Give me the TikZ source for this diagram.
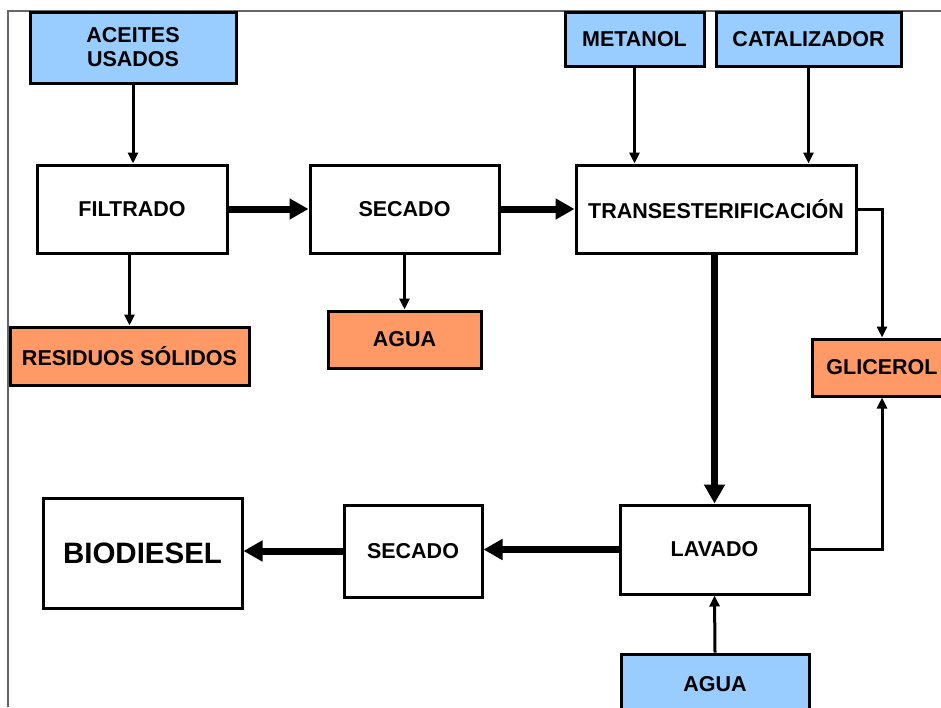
\documentclass[tikz,border=0pt]{standalone}
\usepackage{fontspec}
\setmainfont{Liberation Sans}
\usetikzlibrary{arrows.meta}
\definecolor{inblue}{HTML}{99CCFF}
\definecolor{outorange}{HTML}{FF9966}
\begin{document}
\begin{tikzpicture}[x=1pt,y=-1pt,
  box/.style={draw=black, line width=3pt, rectangle, inner sep=0pt, align=center,
    font=\fontsize{21.5}{24}\selectfont\bfseries},
  inbox/.style={box, fill=inblue},
  outbox/.style={box, fill=outorange},
  procbox/.style={box, fill=white},
  thin/.style={draw=black, line width=3pt, -{Triangle[length=11pt,width=10pt]}},
  thick/.style={draw=black, line width=7pt, -{Triangle[length=19pt,width=20pt]}}
]
\useasboundingbox (0,0) rectangle (941,707);
\fill[white] (0,0) rectangle (941,707);
\draw[gray!80!black, line width=1.3pt] (8,707) -- (8,11) -- (941,11);

% input boxes
\node[inbox, minimum width=206pt, minimum height=71pt] (aceites) at (133,47.5) {ACEITES\\USADOS};
\node[inbox, minimum width=139pt, minimum height=54pt] (metanol) at (634.5,39) {METANOL};
\node[inbox, minimum width=185pt, minimum height=54pt] (catal) at (808.5,39) {CATALIZADOR};
\node[inbox, minimum width=188pt, minimum height=60pt] (agua2) at (715,684) {AGUA};

% process boxes
\node[procbox, minimum width=190pt, minimum height=88pt] (filtrado) at (132,209) {FILTRADO};
\node[procbox, minimum width=189pt, minimum height=88pt] (secado1) at (404.5,209) {SECADO};
\node[procbox, minimum width=280pt, minimum height=88pt] (trans) at (716,209) {TRANSESTERIFICACIÓN};
\node[procbox, minimum width=189pt, minimum height=89pt] (lavado) at (714.5,549.5) {LAVADO};
\node[procbox, minimum width=138pt, minimum height=92pt] (secado2) at (413,551) {SECADO};
\node[procbox, minimum width=199pt, minimum height=110pt, font=\fontsize{29.5}{32}\selectfont\bfseries] (biodiesel) at (142.5,553) {BIODIESEL};

% output boxes
\node[outbox, minimum width=239pt, minimum height=58pt] (residuos) at (129.5,356) {RESIDUOS SÓLIDOS};
\node[outbox, minimum width=153pt, minimum height=57pt] (agua1) at (404.5,339.5) {AGUA};
\node[outbox, minimum width=140pt, minimum height=57pt] (glicerol) at (882,367.5) {GLICEROL};

% thin arrows
\draw[thin] (aceites.south) -- (aceites.south |- filtrado.north);
\draw[thin] (filtrado.south -| residuos.north) -- (residuos.north);
\draw[thin] (secado1.south) -- (agua1.north);
\draw[thin] (metanol.south) -- (metanol.south |- trans.north);
\draw[thin] (catal.south) -- (catal.south |- trans.north);
\draw[thin] (trans.east) -| (glicerol.north);
\draw[thin] (lavado.east) -| (glicerol.south);
\draw[thin] (agua2.north) -- (lavado.south);

% thick arrows
\draw[thick] (filtrado.east) -- (secado1.west);
\draw[thick] (secado1.east) -- (trans.west);
\draw[thick] (trans.south -| lavado.north) -- (lavado.north);
\draw[thick] (lavado.west) -- (lavado.west -| secado2.east);
\draw[thick] (secado2.west) -- (secado2.west -| biodiesel.east);
\end{tikzpicture}
\end{document}
